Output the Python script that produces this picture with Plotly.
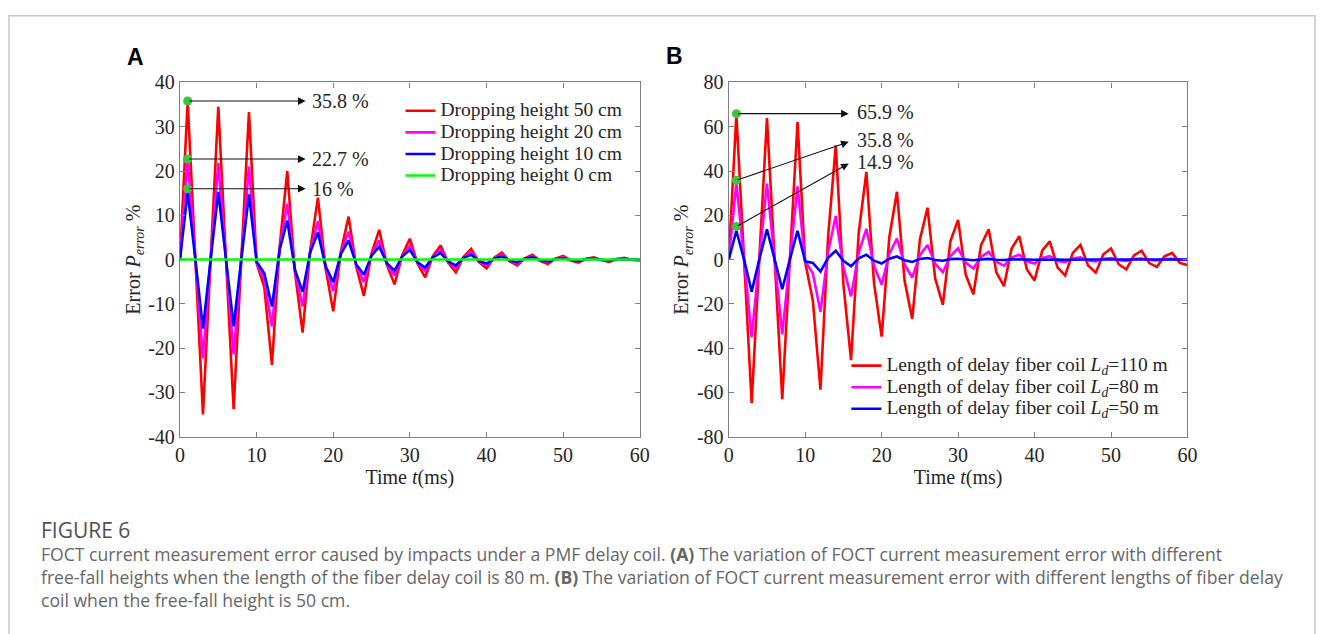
import plotly.graph_objects as go

t = list(range(61))

# Panel A: dropping heights (delay coil 80 m)
a50 = [0, 35.8, 0.3, -35.0, 0.2, 34.5, 0.2, -33.8, 0.1, 33.3,
       -0.8, -6.2, -23.8, 2.8, 20.0, -2.8, -16.5, 2.2, 14.0, -2.0,
       -11.7, 1.8, 9.7, -1.6, -8.2, 1.4, 6.7, -1.2, -5.6, 1.0,
       4.7, -0.9, -4.0, 0.8, 3.2, -0.7, -2.9, 0.6, 2.4, -0.5,
       -2.0, 0.4, 1.6, -0.4, -1.3, 0.3, 1.1, -0.3, -1.0, 0.2,
       0.8, -0.2, -0.7, 0.2, 0.5, -0.1, -0.5, 0.1, 0.4, -0.1, -0.2]
a20 = [0, 22.7, 0.2, -22.3, 0.1, 21.8, 0.1, -21.4, 0.1, 21.0,
       -0.6, -4.5, -15.1, 2.4, 12.6, -2.5, -10.6, 1.9, 8.7, -1.7,
       -7.1, 1.5, 6.3, -1.3, -5.1, 1.1, 4.3, -1.0, -3.6, 0.8,
       3.1, -0.7, -2.6, 0.6, 2.2, -0.5, -1.9, 0.5, 1.6, -0.4,
       -1.3, 0.3, 1.1, -0.3, -0.9, 0.2, 0.7, -0.2, -0.6, 0.2,
       0.5, -0.1, -0.4, 0.1, 0.3, -0.1, -0.3, 0.1, 0.2, 0.0, -0.1]
a10 = [0, 15.3, 0.1, -15.6, 0.1, 15.3, 0.1, -15.1, 0.1, 14.7,
       -0.5, -3.1, -10.6, 2.2, 8.8, -2.3, -7.3, 1.7, 6.1, -1.5,
       -5.1, 1.3, 4.3, -1.1, -3.4, 0.9, 2.9, -0.8, -2.5, 0.7,
       2.2, -0.6, -1.8, 0.5, 1.5, -0.4, -1.3, 0.4, 1.1, -0.3,
       -0.9, 0.2, 0.7, -0.2, -0.6, 0.2, 0.5, -0.1, -0.4, 0.1,
       0.3, -0.1, -0.3, 0.1, 0.2, 0.0, -0.2, 0.0, 0.1, 0.0, 0.0]
a0 = [0.0] * 61

# Panel B: delay coil lengths (height 50 cm)
b110 = [0, 65.5, 0.5, -64.7, 0.4, 63.9, 0.3, -63.1, 0.3, 62.1,
        -1.1, -18.5, -58.8, 10.5, 51.6, -11.2, -45.4, 12.0, 39.6, -10.5,
        -34.8, 10.0, 30.6, -9.5, -26.8, 9.0, 23.4, -8.5, -20.4, 8.4,
        17.9, -6.9, -15.7, 6.5, 13.7, -5.8, -12.0, 5.0, 10.5, -4.5,
        -9.4, 4.0, 8.2, -3.5, -7.2, 3.0, 6.6, -2.7, -5.9, 2.4,
        5.0, -2.1, -4.4, 1.9, 4.0, -1.6, -3.3, 1.5, 3.0, -1.5, -2.5]
b80 = [0, 34.5, 0.3, -35.0, 0.2, 34.3, 0.2, -33.8, 0.2, 33.0,
       -0.8, -6.2, -23.6, 3.5, 19.7, -3.5, -16.6, 3.0, 13.9, -2.8,
       -11.3, 2.5, 9.5, -2.2, -8.1, 2.0, 6.6, -1.8, -5.7, 1.6,
       5.0, -1.4, -4.0, 1.2, 3.5, -1.0, -2.8, 0.9, 2.2, -0.8,
       -1.8, 0.7, 1.5, -0.6, -1.2, 0.5, 1.0, -0.4, -0.8, 0.4,
       0.7, -0.3, -0.6, 0.3, 0.5, -0.2, -0.4, 0.2, 0.3, -0.1, -0.2]
b50 = [0, 13.0, 0.1, -14.5, 0.1, 13.7, 0.1, -13.4, 0.1, 13.0,
       -0.8, -1.5, -5.4, 0.8, 4.0, -0.6, -3.0, 0.6, 2.2, -0.5,
       -1.8, 0.4, 1.4, -0.3, -1.1, 0.3, 0.7, -0.2, -0.5, 0.2,
       0.4, -0.1, -0.3, 0.1, 0.3, -0.1, -0.2, 0.1, 0.2, 0.0,
       -0.1, 0.0, 0.1, 0.0, -0.1, 0.0, 0.1, 0.0, 0.0, 0.0,
       0.0, 0.0, 0.0, 0.0, 0.0, 0.0, 0.0, 0.0, 0.0, 0.0, 0.0]

peak_t = [1, 1, 1]
peaks_a = [35.8, 22.7, 16]
peaks_b = [65.9, 35.8, 14.9]
labels_a = ["35.8 %", "22.7 %", "16 %"]
labels_b = ["65.9 %", "35.8 %", "14.9 %"]

x_ticks = [0, 10, 20, 30, 40, 50, 60]
y_ticks_a = [-40, -30, -20, -10, 0, 10, 20, 30, 40]
y_ticks_b = [-80, -60, -40, -20, 0, 20, 40, 60, 80]

names_a = ["Dropping height 50 cm", "Dropping height 20 cm",
           "Dropping height 10 cm", "Dropping height 0 cm"]
names_b = ["Length of delay fiber coil <i>L</i><sub><i>d</i></sub>=110 m",
           "Length of delay fiber coil <i>L</i><sub><i>d</i></sub>=80 m",
           "Length of delay fiber coil <i>L</i><sub><i>d</i></sub>=50 m"]

W, H = 1327, 634
SERIF = "Liberation Serif, Times New Roman, serif"
TXT = "#262626"


def sized(s, size):
    # legend rows keep the compact spacing of the small base font; the text itself is drawn larger
    return "<span style='font-size:" + str(size) + "px'>" + s + "</span>"


fig = go.Figure()

cols_a = ["#ff0000", "#ff00ff", "#0000ff", "#00ff00"]
for ys, nm, c in zip([a50, a20, a10, a0], names_a, cols_a):
    fig.add_trace(go.Scatter(x=t, y=ys, name=sized(nm, 19.5), mode="lines",
                             line=dict(color=c, width=2.6),
                             xaxis="x", yaxis="y", legend="legend"))
fig.add_trace(go.Scatter(x=peak_t, y=peaks_a, mode="markers", showlegend=False,
                         marker=dict(color="#3ec43e", size=9),
                         xaxis="x", yaxis="y"))

cols_b = ["#ff0000", "#ff00ff", "#0000ff"]
for ys, nm, c in zip([b110, b80, b50], names_b, cols_b):
    fig.add_trace(go.Scatter(x=t, y=ys, name=sized(nm, 19.5), mode="lines",
                             line=dict(color=c, width=2.6),
                             xaxis="x2", yaxis="y2", legend="legend2"))
fig.add_trace(go.Scatter(x=peak_t, y=peaks_b, mode="markers", showlegend=False,
                         marker=dict(color="#3ec43e", size=9),
                         xaxis="x2", yaxis="y2"))


def px(x):
    return x / W


def py(y):
    return 1 - y / H


def tick_text(vals):
    return [str(v) for v in vals]  # plain hyphen-minus, as in the reference


axis_common = dict(
    showline=True, linecolor="#7f7f7f", linewidth=1.3, mirror="ticks",
    ticks="inside", ticklen=5, tickcolor="#7f7f7f", tickwidth=1.1,
    showgrid=False, zeroline=False,
    tickfont=dict(family=SERIF, size=20, color=TXT),
    title_font=dict(family=SERIF, size=20, color=TXT),
)

fig.update_layout(
    width=W, height=H,
    margin=dict(l=0, r=0, t=0, b=0),
    paper_bgcolor="white", plot_bgcolor="white",
    xaxis=dict(domain=[px(177), px(642)], range=[0, 60],
               tickmode="array", tickvals=x_ticks, ticktext=tick_text(x_ticks),
               title=dict(text="Time <i>t</i>(ms)", standoff=4), anchor="y", **axis_common),
    yaxis=dict(domain=[py(441), py(74)], range=[-40, 40],
               tickmode="array", tickvals=y_ticks_a, ticktext=tick_text(y_ticks_a),
               title=dict(text="Error <i>P</i><sub><i>error</i></sub> %", standoff=2),
               anchor="x", **axis_common),
    xaxis2=dict(domain=[px(732), px(1196)], range=[0, 60],
                tickmode="array", tickvals=x_ticks, ticktext=tick_text(x_ticks),
                title=dict(text="Time <i>t</i>(ms)", standoff=4), anchor="y2", **axis_common),
    yaxis2=dict(domain=[py(441), py(74)], range=[-80, 80],
                tickmode="array", tickvals=y_ticks_b, ticktext=tick_text(y_ticks_b),
                title=dict(text="Error <i>P</i><sub><i>error</i></sub> %", standoff=2),
                anchor="x2", **axis_common),
    legend=dict(x=px(400), y=py(87), xanchor="left", yanchor="top",
                bgcolor="rgba(0,0,0,0)", font=dict(family=SERIF, size=14.3, color=TXT),
                tracegroupgap=0, itemwidth=30),
    legend2=dict(x=px(851), y=py(351), xanchor="left", yanchor="top",
                 bgcolor="rgba(0,0,0,0)", font=dict(family=SERIF, size=14.3, color=TXT),
                 tracegroupgap=0, itemwidth=30),
    showlegend=True,
)

annotations = []
# arrows and labels, panel A
for yv, lab in zip(peaks_a, labels_a):
    annotations.append(dict(x=16.4, y=yv, ax=1, ay=yv, xref="x", yref="y",
                            axref="x", ayref="y", text="", showarrow=True,
                            arrowhead=2, arrowsize=1.4, arrowwidth=1.1, arrowcolor="#111"))
    annotations.append(dict(x=17.0, y=yv, xref="x", yref="y", text=lab, showarrow=False,
                            xanchor="left", yanchor="middle",
                            font=dict(family=SERIF, size=20, color=TXT)))
# arrows and labels, panel B
head_b = [65.9, 53.2, 43.4]
for yv, hy, lab in zip(peaks_b, head_b, labels_b):
    annotations.append(dict(x=15.7, y=hy, ax=1, ay=yv, xref="x2", yref="y2",
                            axref="x2", ayref="y2", text="", showarrow=True,
                            arrowhead=2, arrowsize=1.4, arrowwidth=1.1, arrowcolor="#111"))
    annotations.append(dict(x=16.5, y=hy + 0.6, xref="x2", yref="y2", text=lab, showarrow=False,
                            xanchor="left", yanchor="middle",
                            font=dict(family=SERIF, size=20, color=TXT)))

# panel letters
for lx, ly, lt in [(132, 48, "A"), (677, 47, "B")]:
    annotations.append(dict(x=px(lx), y=py(ly), xref="paper", yref="paper", text="<b>" + lt + "</b>",
                            showarrow=False, xanchor="center", yanchor="middle",
                            font=dict(family="Liberation Sans, Arial, sans-serif", size=23, color="#000")))

CAP = "Open Sans, Noto Sans, sans-serif"
cap_lines = [
    "<span style='font-size:21px;color:#505050'>FIGURE 6</span>",
    "FOCT current measurement error caused by impacts under a PMF delay coil. <b>(A)</b> The variation of FOCT current measurement error with different",
    "free-fall heights when the length of the fiber delay coil is 80 m. <b>(B)</b> The variation of FOCT current measurement error with different lengths of fiber delay",
    "coil when the free-fall height is 50 cm.",
]
annotations.append(dict(x=px(34), y=py(573), xref="paper", yref="paper",
                        text="<br>".join(cap_lines), align="left",
                        showarrow=False, xanchor="left", yanchor="middle",
                        font=dict(family=CAP, size=17.6, color="#666")))

fig.update_layout(annotations=annotations)

# outer frame
fig.add_shape(type="rect", xref="paper", yref="paper",
              x0=px(4), x1=px(1325), y0=-0.2, y1=py(5),
              line=dict(color="#c8c8c8", width=1.5), fillcolor="rgba(0,0,0,0)")

fig.write_html("out.html", config={"displayModeBar": False},
               post_script="document.body.style.margin='0';document.body.style.overflow='hidden';")
